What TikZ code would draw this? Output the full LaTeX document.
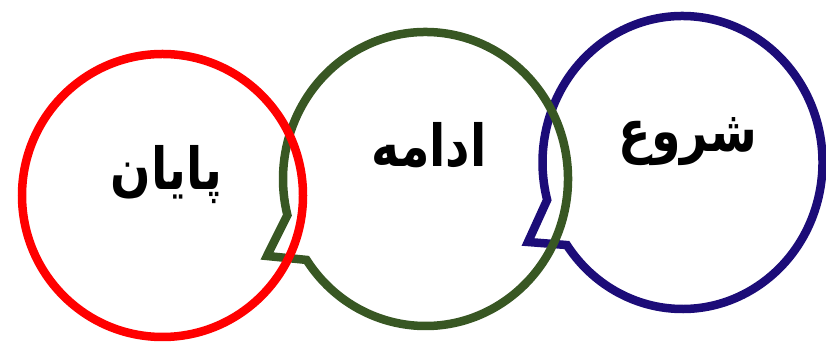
\documentclass[tikz,border=0pt]{standalone}
\usepackage{fontspec}
\newfontfamily\arabicfont[Script=Arabic]{DejaVu Sans}
\TeXXeTstate=1
\usetikzlibrary{calc}
\definecolor{cred}{HTML}{FF0000}
\definecolor{cgreen}{HTML}{385723}
\definecolor{cblue}{HTML}{1C0C78}
\tikzset{
  bubble/.style={line width=8.5pt, line join=miter},
  lbl/.style={font=\arabicfont\bfseries\fontsize{58}{62}\selectfont, inner sep=0pt, anchor=base, text=black, xscale=0.82}
}
\begin{document}
\begin{tikzpicture}[x=1pt,y=1pt]
\useasboundingbox (0,0) rectangle (826,344);
% blue (start)
\coordinate (bc) at (682.5,181.5);
\coordinate (btip) at (528,102);
\draw[bubble, cblue] (btip) -- ($(bc)+(214.3:140pt and 146.5pt)$)
  arc[start angle=214.3, end angle=554.8, x radius=140pt, y radius=146.5pt] -- cycle;
% green (continue)
\coordinate (gc) at (425.5,165);
\coordinate (gtip) at (267,88);
\draw[bubble, cgreen] (gtip) -- ($(gc)+(213.4:142.5pt and 147pt)$)
  arc[start angle=213.4, end angle=554.2, x radius=142.5pt, y radius=147pt] -- cycle;
% red (end)
\coordinate (rc) at (162.5,148.5);
\draw[bubble, cred] (rc) ellipse[x radius=140.5pt, y radius=141.5pt];
\node[lbl] (tshoru) at (688,192) {\beginR شروع\endR};
\node[lbl] (tedame) at (429,177) {\beginR ادامه\endR};
\node[lbl] (tpayan) at (166.5,154) {\beginR پایان\endR};
\end{tikzpicture}
\end{document}
